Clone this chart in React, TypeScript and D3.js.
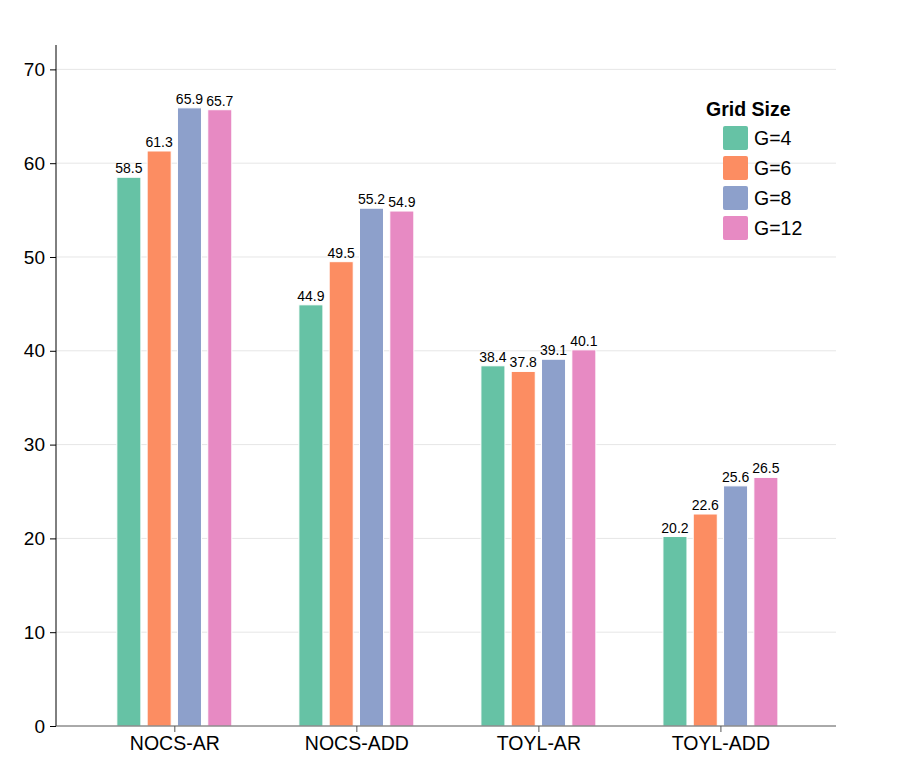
import React, { useRef, useEffect } from 'react';
import * as d3 from 'd3';

const categories = ['NOCS-AR', 'NOCS-ADD', 'TOYL-AR', 'TOYL-ADD'];
const seriesNames = ['G=4', 'G=6', 'G=8', 'G=12'];
const colors = ['#66c2a5', '#fc8d62', '#8da0cb', '#e78ac3'];
const g4 = [58.5, 44.9, 38.4, 20.2];
const g6 = [61.3, 49.5, 37.8, 22.6];
const g8 = [65.9, 55.2, 39.1, 25.6];
const g12 = [65.7, 54.9, 40.1, 26.5];
const yTicks = [0, 10, 20, 30, 40, 50, 60, 70];

const App = () => {
  const svgRef = useRef<SVGSVGElement>(null);
  const width = 897;
  const height = 762;

  useEffect(() => {
    const svg = d3.select(svgRef.current);
    svg.selectAll('*').remove();

    const left = 56, right = 836, top = 45, bottom = 726;
    const font = 'Liberation Sans, Arial, sans-serif';
    const series = [g4, g6, g8, g12];

    // category index -> pixel (axis spans a bit past the outer groups)
    const x = d3.scaleLinear().domain([-0.65, 3.635]).range([left, right]);
    const y = d3.scaleLinear().domain([0, 72.6]).range([bottom, top]);
    const barW = 0.132;
    const step = 0.1665;

    // gridlines
    svg.append('g')
      .selectAll('line')
      .data(yTicks.filter(d => d > 0))
      .join('line')
      .attr('x1', left).attr('x2', right)
      .attr('y1', d => y(d)).attr('y2', d => y(d))
      .attr('stroke', '#e6e6e6').attr('stroke-width', 1);

    // bars
    const g = svg.append('g');
    series.forEach((vals, s) => {
      vals.forEach((v, i) => {
        const cx = i + (s - 1.5) * step;
        g.append('rect')
          .attr('x', x(cx - barW / 2))
          .attr('y', y(v))
          .attr('width', x(cx + barW / 2) - x(cx - barW / 2))
          .attr('height', y(0) - y(v))
          .attr('fill', colors[s])
          .attr('stroke', 'white')
          .attr('stroke-width', 1);
        g.append('text')
          .attr('x', x(cx))
          .attr('y', y(v) - 4)
          .attr('text-anchor', 'middle')
          .attr('font-family', font)
          .attr('font-size', '14px')
          .attr('fill', 'black')
          .text(v.toFixed(1));
      });
    });

    // y axis
    const yAxis = svg.append('g').attr('transform', `translate(${left},0)`)
      .call(d3.axisLeft(y).tickValues(yTicks).tickSize(6).tickPadding(5).tickFormat(d3.format('d')));
    yAxis.select('.domain').attr('stroke', 'black').attr('d', `M0,${bottom}V${top}`);
    yAxis.selectAll('text').attr('font-family', font).attr('font-size', '19px').attr('fill', 'black');

    // x axis
    const xAxis = svg.append('g').attr('transform', `translate(0,${bottom})`)
      .call(d3.axisBottom(x).tickValues([0, 1, 2, 3]).tickSize(6).tickPadding(4)
        .tickFormat((d: any) => categories[d]));
    xAxis.select('.domain').attr('stroke', '#555').attr('d', `M${left},0H${right}`);
    xAxis.selectAll('line').attr('stroke', '#555');
    xAxis.selectAll('text').attr('font-family', font).attr('font-size', '19.5px').attr('fill', 'black');

    // legend
    const lg = svg.append('g');
    lg.append('text')
      .attr('x', 706).attr('y', 116)
      .attr('font-family', font).attr('font-size', '19.5px').attr('font-weight', 'bold')
      .text('Grid Size');
    seriesNames.forEach((n, s) => {
      lg.append('rect')
        .attr('x', 723).attr('y', 126 + s * 30)
        .attr('width', 25).attr('height', 24)
        .attr('rx', 2)
        .attr('fill', colors[s]);
      lg.append('text')
        .attr('x', 754).attr('y', 145 + s * 30)
        .attr('font-family', font).attr('font-size', '19.5px')
        .text(n);
    });
  }, []);

  return (
    <svg ref={svgRef} width={width} height={height} style={{ display: 'block', margin: -8 }}></svg>
  );
};

export default App;
